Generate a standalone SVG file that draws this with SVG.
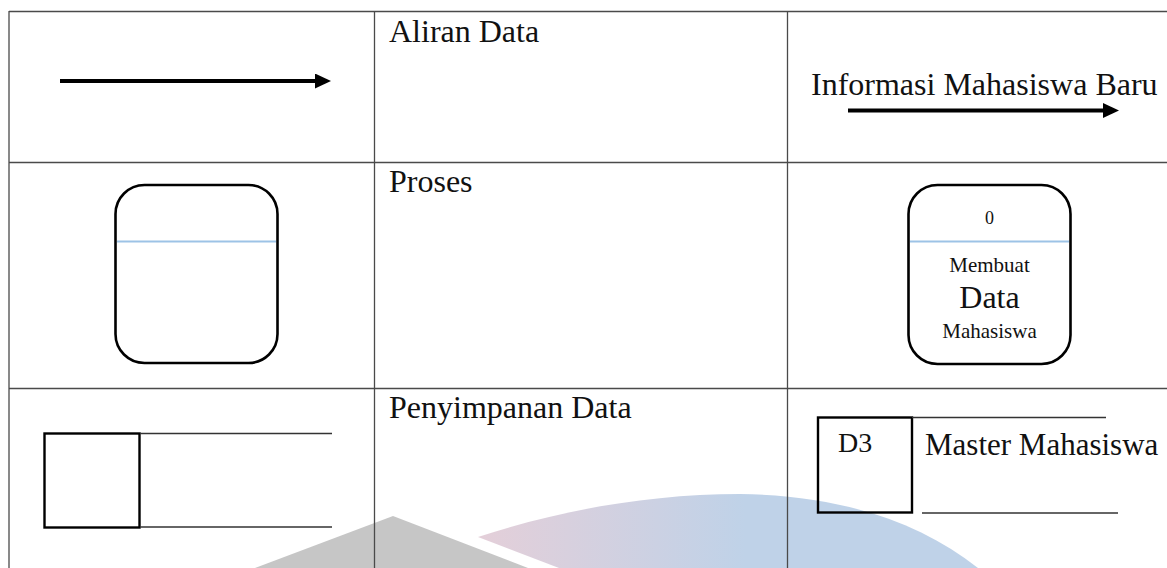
<svg xmlns="http://www.w3.org/2000/svg" width="1167" height="568" viewBox="0 0 1167 568">
  <style>
    .grid { stroke: #4a4a4a; stroke-width: 1.3; fill: none; }
    .label { font-family: "Liberation Serif", "Times New Roman", serif; fill: #111; }
    .big { font-size: 32px; }
    .mid { font-size: 21px; }
    .small { font-size: 18px; }
    .proc { fill: none; stroke: #000; stroke-width: 2.6; }
    .divider { stroke: #9dc3e6; stroke-width: 2; }
    .flow { stroke: #000; stroke-width: 4; fill: none; }
    .store { fill: none; stroke: #000; stroke-width: 2.4; }
    .storeline { stroke: #333; stroke-width: 1.5; }
  </style>
  <defs>
    <marker id="head" markerUnits="userSpaceOnUse" markerWidth="16" markerHeight="15" refX="0" refY="7.5" orient="auto">
      <polygon points="0,0 16,7.5 0,15" fill="#000"/>
    </marker>
    <linearGradient id="wm" gradientUnits="userSpaceOnUse" x1="480" y1="0" x2="745" y2="0">
      <stop offset="0" stop-color="#e4cfd9"/>
      <stop offset="1" stop-color="#bfd2e8"/>
    </linearGradient>
  </defs>

  <rect width="1167" height="568" fill="#fff"/>

  <!-- background mark -->
  <g id="watermark">
    <polygon points="255,568 393,516 528,568" fill="#c6c6c6"/>
    <path d="M478,537 C560,510 650,494 740,494 C840,495 920,522 978,568 L559,568 Z" fill="url(#wm)"/>
  </g>

  <!-- table grid -->
  <g id="table">
    <line class="grid" x1="9" y1="11.5" x2="1167" y2="11.5"/>
    <line class="grid" x1="9" y1="162.5" x2="1167" y2="162.5"/>
    <line class="grid" x1="9" y1="388.5" x2="1167" y2="388.5"/>
    <line class="grid" x1="9" y1="11" x2="9" y2="568"/>
    <line class="grid" x1="374.5" y1="11" x2="374.5" y2="568"/>
    <line class="grid" x1="787.5" y1="11" x2="787.5" y2="568"/>
  </g>

  <!-- row 1: data flow -->
  <g id="connectors">
    <line class="flow" x1="60" y1="81" x2="315" y2="81" marker-end="url(#head)"/>
    <line class="flow" x1="848" y1="110.5" x2="1103" y2="110.5" marker-end="url(#head)"/>
  </g>
  <g id="flow-label">
    <text class="label big" x="389" y="42">Aliran Data</text>
    <text class="label big" x="811" y="95">Informasi Mahasiswa Baru</text>
  </g>

  <!-- row 2: process -->
  <g id="process-symbol">
    <rect class="proc" x="115.5" y="185" width="162" height="178" rx="29"/>
    <line class="divider" x1="117" y1="241.5" x2="276" y2="241.5"/>
  </g>
  <g id="process-label">
    <text class="label big" x="389" y="192">Proses</text>
  </g>
  <g id="process-example">
    <rect class="proc" x="908.5" y="185" width="162" height="179" rx="29"/>
    <line class="divider" x1="910" y1="241.5" x2="1069" y2="241.5"/>
    <text class="label small" x="989.5" y="224" text-anchor="middle">0</text>
    <text class="label mid" x="989.5" y="272" text-anchor="middle">Membuat</text>
    <text class="label big" x="989.5" y="308" text-anchor="middle">Data</text>
    <text class="label mid" x="989.5" y="338" text-anchor="middle">Mahasiswa</text>
  </g>

  <!-- row 3: data store -->
  <g id="store-symbol">
    <rect class="store" x="44.5" y="433.5" width="95" height="94"/>
    <line class="storeline" x1="140" y1="433.5" x2="332" y2="433.5"/>
    <line class="storeline" x1="140" y1="527" x2="332" y2="527"/>
  </g>
  <g id="store-label">
    <text class="label big" x="389" y="418">Penyimpanan Data</text>
  </g>
  <g id="store-example">
    <rect class="store" x="818" y="417.5" width="94" height="95"/>
    <line class="storeline" x1="912" y1="417.5" x2="1106" y2="417.5"/>
    <line class="storeline" x1="922" y1="513" x2="1118" y2="513"/>
    <text class="label" font-size="28" x="838" y="452">D3</text>
    <text class="label" font-size="31" x="925" y="455">Master Mahasiswa</text>
  </g>
</svg>
